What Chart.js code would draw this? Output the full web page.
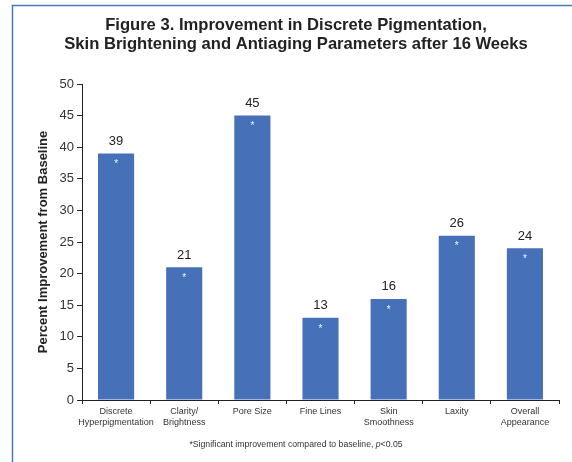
<!DOCTYPE html>
<html>
<head>
<meta charset="utf-8">
<script src="https://cdn.jsdelivr.net/npm/chart.js@4"></script>
<style>
  html, body { margin: 0; padding: 0; background: #fff; }
  #wrap { width: 572px; height: 462px; }
</style>
</head>
<body>
<div id="wrap"><canvas id="improvementChart" width="572" height="462"></canvas></div>
<script>
// Data
const categories = [
    ["Discrete", "Hyperpigmentation"],
    ["Clarity/", "Brightness"],
    ["Pore Size"],
    ["Fine Lines"],
    ["Skin", "Smoothness"],
    ["Laxity"],
    ["Overall", "Appearance"]
];
const improvement = [39, 21, 45, 13, 16, 26, 24];
const significant = [true, true, true, true, true, true, true];
const yTicks = [0, 5, 10, 15, 20, 25, 30, 35, 40, 45, 50];

const titleLines = ["Figure 3. Improvement in Discrete Pigmentation,", "Skin Brightening and Antiaging Parameters after 16 Weeks"];
const FONT = "'Liberation Sans', Arial, sans-serif";
const BAR_COLOR = "#4670b8";

// frame, title, value labels, asterisks, footnote
const decorations = {
    id: "decorations",
    beforeDraw(chart) {
        const ctx = chart.ctx;
        ctx.save();
        ctx.strokeStyle = "#4b7ab0";
        ctx.lineWidth = 1.5;
        ctx.beginPath();
        ctx.moveTo(12.5, 462);
        ctx.lineTo(12.5, 5.5);
        ctx.lineTo(572, 5.5);
        ctx.stroke();
        ctx.restore();
    },
    afterDraw(chart) {
        const ctx = chart.ctx;
        const meta = chart.getDatasetMeta(0);
        ctx.save();
        // title
        ctx.fillStyle = "#222";
        ctx.font = "bold 16.6px " + FONT;
        ctx.textAlign = "center";
        ctx.textBaseline = "middle";
        ctx.fillText(titleLines[0], 296, 25);
        ctx.fillText(titleLines[1], 296, 44);

        // values above bars and significance marks
        meta.data.forEach((bar, i) => {
            ctx.fillStyle = "#222";
            ctx.font = "13px " + FONT;
            ctx.fillText(String(improvement[i]), bar.x, bar.y - 12);
            if (significant[i]) {
                ctx.fillStyle = "#f4f7fc";
                ctx.font = "10px " + FONT;
                ctx.fillText("*", bar.x, bar.y + 11);
            }
        });

        // footnote
        ctx.fillStyle = "#333";
        ctx.font = "8.7px " + FONT;
        ctx.textAlign = "left";
        const a = "*Significant improvement compared to baseline, ";
        const b = "p";
        const c = "<0.05";
        const wa = ctx.measureText(a).width;
        ctx.font = "italic 8.7px " + FONT;
        const wb = ctx.measureText(b).width;
        ctx.font = "8.7px " + FONT;
        const wc = ctx.measureText(c).width;
        let x = 296 - (wa + wb + wc) / 2;
        ctx.fillText(a, x, 445);
        x += wa;
        ctx.font = "italic 8.7px " + FONT;
        ctx.fillText(b, x, 445);
        x += wb;
        ctx.font = "8.7px " + FONT;
        ctx.fillText(c, x, 445);
        ctx.restore();
    }
};

new Chart(document.getElementById("improvementChart"), {
    type: "bar",
    data: {
        labels: categories,
        datasets: [{
            label: "Percent Improvement from Baseline",
            data: improvement,
            backgroundColor: BAR_COLOR,
            borderWidth: 0,
            barPercentage: 0.53,
            categoryPercentage: 1.0
        }]
    },
    options: {
        responsive: false,
        animation: false,
        layout: { padding: { left: 36, right: 13, top: 84, bottom: 0 } },
        plugins: {
            legend: { display: false },
            tooltip: { enabled: false }
        },
        scales: {
            x: {
                afterFit: scale => { scale.height = 62; },
                grid: {
                    offset: true,
                    drawOnChartArea: false,
                    drawTicks: true,
                    tickLength: 4,
                    color: "#222"
                },
                border: { color: "#222", width: 1 },
                ticks: {
                    color: "#333",
                    font: { family: FONT, size: 9 },
                    padding: 2,
                    maxRotation: 0,
                    autoSkip: false
                }
            },
            y: {
                min: 0,
                max: 50,
                afterFit: scale => { scale.width = 46; },
                afterBuildTicks: scale => { scale.ticks = yTicks.map(v => ({ value: v })); },
                grid: {
                    drawOnChartArea: false,
                    drawTicks: true,
                    tickLength: 5,
                    color: "#222"
                },
                border: { color: "#222", width: 1 },
                ticks: {
                    color: "#333",
                    font: { family: FONT, size: 13 },
                    padding: 3
                },
                title: {
                    display: true,
                    text: "Percent Improvement from Baseline",
                    color: "#222",
                    font: { family: FONT, size: 13, weight: "bold" },
                    padding: { top: 0, bottom: 0 }
                }
            }
        }
    },
    plugins: [decorations]
});
</script>
</body>
</html>
